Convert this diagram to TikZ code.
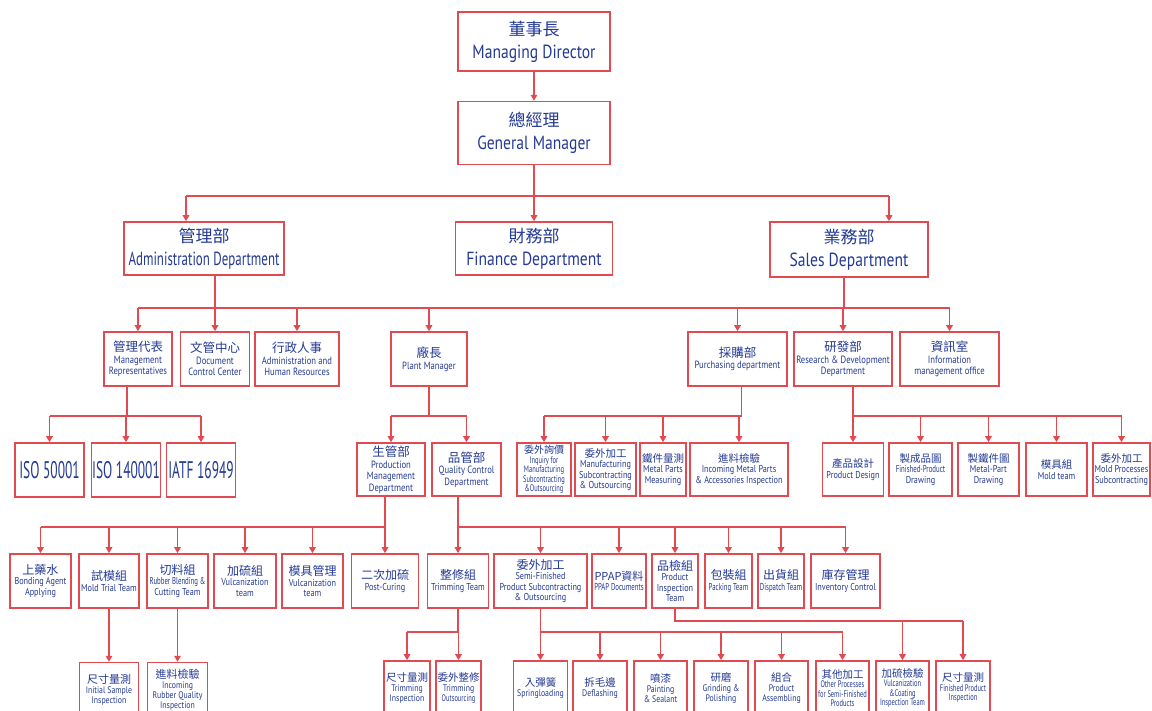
\documentclass[tikz,border=0pt]{standalone}
\usepackage{fontspec}
\setmainfont{PT Sans}[FakeStretch=0.82]
\newfontfamily\condfont{PT Sans}[FakeStretch=0.68]
\newfontfamily\isofont{PT Sans}[FakeStretch=0.56]
\newfontfamily\cjk{Noto Sans CJK TC}
\usetikzlibrary{positioning, arrows.meta}
\definecolor{linered}{RGB}{226,74,82}
\definecolor{labelblue}{RGB}{36,58,148}
\newcommand{\zh}[2]{{\cjk\fontsize{#1}{#1}\selectfont #2}}

\begin{document}
\begin{tikzpicture}[x=1pt, y=-1pt,
    unit/.style={draw=linered, line width=1.6pt, rectangle, fill=white, text=labelblue, align=center, inner sep=0.5pt},
    sz/.style 2 args={minimum width=#1pt, minimum height=#2pt},
    bigtext/.style={font=\fontsize{19}{23}\selectfont},
    midtext/.style={font=\fontsize{10.5}{11.5}\selectfont},
    isotext/.style={font=\isofont\fontsize{24}{26}\selectfont},
    smalltext/.style={font=\fontsize{10}{10.5}\selectfont},
    bottomtext/.style={font=\fontsize{9.5}{10}\selectfont},
    tinytext/.style={font=\condfont\fontsize{9.5}{9.5}\selectfont},
    conn/.style={draw=linered, line width=1.5pt},
    connarrow/.style={conn, -{Triangle[length=6pt, width=6.5pt]}}
]

\fill[white] (0,0) rectangle (1152,711);
\useasboundingbox (0,0) rectangle (1152,711);

% top of the chart
\node[unit, sz={152}{59}, bigtext] (md) at (534,41.5) {\zh{17}{董事長}\\Managing Director};
\node[unit, sz={152}{63}, bigtext, below=29pt of md] (gm) {\zh{17}{總經理}\\General Manager};

\node[unit, sz={160}{53}, bigtext] (admin) at (204,248.5) {\zh{17}{管理部}\\{\condfont Administration Department}};
\node[unit, sz={157}{53}, bigtext] (finance) at (534,248.5) {\zh{17}{財務部}\\Finance Department};
\node[unit, sz={158}{55}, bigtext] (sales) at (849,249.5) {\zh{17}{業務部}\\Sales Department};

% offices under the departments
\node[unit, sz={68}{54}, midtext] (mgmtrep) at (138,359) {\zh{12.5}{管理代表}\\Management\\Representatives};
\node[unit, sz={69}{54}, midtext] (doccenter) at (215,359) {\zh{12.5}{文管中心}\\Document\\Control Center};
\node[unit, sz={84}{54}, midtext] (adminhr) at (297,359) {\zh{12.5}{行政人事}\\Administration and\\Human Resources};
\node[unit, sz={76}{54}, midtext] (plant) at (429,359) {\zh{12.5}{廠長}\\Plant Manager};
\node[unit, sz={99}{54}, midtext] (purchase) at (737.5,359) {\zh{12.5}{採購部}\\Purchasing department};
\node[unit, sz={98}{54}, midtext] (rnd) at (843,359) {\zh{12.5}{研發部}\\Research \& Development\\Department};
\node[unit, sz={99}{54}, midtext] (infooffice) at (949.5,359) {\zh{12.5}{資訊室}\\Information\\management office};

\node[unit, sz={69}{54}, isotext] (iso1) at (49.5,470) {ISO 50001};
\node[unit, sz={69}{54}, isotext] (iso2) at (126,470) {ISO 140001};
\node[unit, sz={69}{54}, isotext] (iso3) at (201,470) {IATF 16949};

\node[unit, sz={68}{53}, midtext] (prodmgmt) at (391,469.5) {\zh{12.5}{生管部}\\Production\\Management\\Department};
\node[unit, sz={69}{53}, midtext] (qcdept) at (466.5,469.5) {\zh{12.5}{品管部}\\Quality Control\\Department};

\node[unit, sz={54}{53}, tinytext] (inquiry) at (544,469.5) {\zh{10}{委外詢價}\\Inquiry for\\Manufacturing\\Subcontracting\\\&Outsourcing};
\node[unit, sz={61}{53}, smalltext] (mfgsub) at (605.5,469.5) {\zh{10.5}{委外加工}\\Manufacturing\\Subcontracting\\\& Outsourcing};
\node[unit, sz={46}{53}, smalltext] (metalmeasure) at (663,469.5) {\zh{10.5}{鐵件量測}\\Metal Parts\\Measuring};
\node[unit, sz={98}{53}, smalltext] (incomingmetal) at (739,469.5) {\zh{10.5}{進料檢驗}\\Incoming Metal Parts\\\& Accessories Inspection};

\node[unit, sz={61}{53}, smalltext] (proddesign) at (853,469.5) {\zh{10.5}{產品設計}\\Product Design};
\node[unit, sz={63}{53}, smalltext] (finisheddraw) at (920.5,469.5) {\zh{10.5}{製成品圖}\\{\condfont Finished-Product}\\Drawing};
\node[unit, sz={61}{53}, smalltext] (metaldraw) at (988.5,469.5) {\zh{10.5}{製鐵件圖}\\Metal-Part\\Drawing};
\node[unit, sz={61}{53}, smalltext] (moldteam) at (1056.5,469.5) {\zh{10.5}{模具組}\\Mold team};
\node[unit, sz={57}{53}, smalltext] (moldsub) at (1121.5,469.5) {\zh{10.5}{委外加工}\\Mold Processes\\Subcontracting};

% teams
\node[unit, sz={61}{54}, smalltext] (bonding) at (40.5,581) {\zh{12}{上藥水}\\Bonding Agent\\Applying};
\node[unit, sz={60}{54}, smalltext] (moldtrial) at (109,581) {\zh{12}{試模組}\\Mold Trial Team};
\node[unit, sz={61}{54}, smalltext] (cutting) at (177.5,581) {\zh{12}{切料組}\\{\condfont Rubber Blending \&}\\Cutting Team};
\node[unit, sz={62}{54}, smalltext] (vulcan) at (245,581) {\zh{12}{加硫組}\\Vulcanization\\team};
\node[unit, sz={61}{54}, smalltext] (moldmgmt) at (312.5,581) {\zh{12}{模具管理}\\Vulcanization\\team};
\node[unit, sz={67}{54}, smalltext] (postcure) at (385,581) {\zh{12}{二次加硫}\\Post-Curing};
\node[unit, sz={61}{54}, smalltext] (trimming) at (458,581) {\zh{12}{整修組}\\Trimming Team};
\node[unit, sz={93}{54}, smalltext] (semisub) at (540.5,581) {\zh{12}{委外加工}\\Semi-Finished\\Product Subcontracting\\\& Outsourcing};
\node[unit, sz={54}{54}, smalltext] (ppap) at (619,581) {\zh{11}{PPAP資料}\\{\condfont PPAP Documents}};
\node[unit, sz={46}{54}, smalltext] (prodinspect) at (675,581) {\zh{12}{品檢組}\\Product\\Inspection\\Team};
\node[unit, sz={47}{54}, smalltext] (packing) at (728.5,581) {\zh{12}{包裝組}\\{\condfont Packing Team}};
\node[unit, sz={46}{54}, smalltext] (dispatch) at (781,581) {\zh{12}{出貨組}\\{\condfont Dispatch Team}};
\node[unit, sz={69}{54}, smalltext] (inventory) at (845.5,581) {\zh{12}{庫存管理}\\Inventory Control};

% bottom row
\node[unit, sz={59}{54}, bottomtext, below=53pt of moldtrial] (initsample) {\zh{11}{尺寸量測}\\Initial Sample\\Inspection};
\node[unit, sz={60}{54}, bottomtext, below=53pt of cutting] (incomingrubber) {\zh{11}{進料檢驗}\\Incoming\\Rubber Quality\\Inspection};
\node[unit, sz={46}{54}, bottomtext] (trimcheck) at (407,688) {\zh{10.5}{尺寸量測}\\Trimming\\Inspection};
\node[unit, sz={45}{54}, bottomtext] (trimout) at (458.5,688) {\zh{10.5}{委外整修}\\Trimming\\{\condfont Outsourcing}};
\node[unit, sz={54}{54}, bottomtext] (spring) at (540.5,688) {\zh{10.5}{入彈簧}\\Springloading};
\node[unit, sz={54}{54}, bottomtext] (deflash) at (600,688) {\zh{10.5}{拆毛邊}\\Deflashing};
\node[unit, sz={53}{54}, bottomtext] (painting) at (660.5,688) {\zh{10.5}{噴漆}\\Painting\\\& Sealant};
\node[unit, sz={54}{54}, bottomtext] (grinding) at (721,688) {\zh{10.5}{研磨}\\Grinding \&\\Polishing};
\node[unit, sz={53}{54}, bottomtext] (assembling) at (781.5,688) {\zh{10.5}{組合}\\Product\\Assembling};
\node[unit, sz={53}{54}, tinytext] (otherproc) at (842.5,688) {\zh{10.5}{其他加工}\\Other Processes\\for Semi-Finished\\Products};
\node[unit, sz={53}{54}, tinytext] (vulcheck) at (902.5,688) {\zh{10.5}{加硫檢驗}\\Vulcanization\\\&Coating\\Inspection Team};
\node[unit, sz={54}{54}, tinytext] (finalcheck) at (963,688) {\zh{10.5}{尺寸量測}\\Finished Product\\Inspection};

% connectors
\coordinate (bar1) at (0,196);
\coordinate (bar3) at (0,308);
\coordinate (bar4) at (0,416);
\coordinate (bar5) at (0,527);
\coordinate (bar6) at (0,632);
\coordinate (bar6q) at (0,621);
\coordinate (adminin) at ([xshift=-18pt]admin.north);
\coordinate (salesin) at ([xshift=40pt]sales.north);
\coordinate (adminout) at ([xshift=11pt]admin.south);
\coordinate (salesout) at ([xshift=-5pt]sales.south);
\coordinate (repout) at ([xshift=-11pt]mgmtrep.south);
\coordinate (purout) at ([xshift=4pt]purchase.south);
\coordinate (rndout) at ([xshift=10pt]rnd.south);
\coordinate (prodout) at ([xshift=-6pt]prodmgmt.south);
\coordinate (qcout) at ([xshift=-8.5pt]qcdept.south);

\draw[connarrow] (md) -- (gm);
\draw[connarrow] (gm) -- (finance);
\draw[conn] (adminin |- bar1) -- (salesin |- bar1);
\draw[connarrow] (adminin |- bar1) -- (adminin);
\draw[connarrow] (salesin |- bar1) -- (salesin);

\draw[conn] (adminout) -- (adminout |- bar3);
\draw[conn] (salesout) -- (salesout |- bar3);
\draw[conn] (bar3 -| mgmtrep.north) -- (bar3 -| infooffice.north);
\foreach \n in {mgmtrep, doccenter, adminhr, plant, purchase, rnd, infooffice}
    \draw[connarrow] (bar3 -| \n.north) -- (\n.north);

\draw[conn] (repout) -- (repout |- bar4);
\draw[conn] (bar4 -| iso1.north) -- (bar4 -| iso3.north);
\foreach \n in {iso1, iso2, iso3}
    \draw[connarrow] (bar4 -| \n.north) -- (\n.north);

\draw[conn] (plant.south) -- (plant.south |- bar4);
\draw[conn] (bar4 -| prodmgmt.north) -- (bar4 -| qcdept.north);
\foreach \n in {prodmgmt, qcdept}
    \draw[connarrow] (bar4 -| \n.north) -- (\n.north);

\draw[conn] (purout) -- (purout |- bar4);
\draw[conn] (bar4 -| inquiry.north) -- (bar4 -| purout);
\foreach \n in {inquiry, mfgsub, metalmeasure, incomingmetal}
    \draw[connarrow] (bar4 -| \n.north) -- (\n.north);

\draw[conn] (rndout) -- (rndout |- bar4);
\draw[conn] (bar4 -| proddesign.north) -- (bar4 -| moldsub.north);
\foreach \n in {proddesign, finisheddraw, metaldraw, moldteam, moldsub}
    \draw[connarrow] (bar4 -| \n.north) -- (\n.north);

\draw[conn] (prodout) -- (prodout |- bar5);
\draw[conn] (bar5 -| bonding.north) -- (bar5 -| prodout);
\foreach \n in {bonding, moldtrial, cutting, vulcan, moldmgmt, postcure}
    \draw[connarrow] (bar5 -| \n.north) -- (\n.north);

\draw[conn] (qcout) -- (qcout |- bar5);
\draw[conn] (bar5 -| qcout) -- (bar5 -| inventory.north);
\foreach \n in {trimming, semisub, ppap, prodinspect, packing, dispatch, inventory}
    \draw[connarrow] (bar5 -| \n.north) -- (\n.north);

\draw[connarrow] (moldtrial) -- (initsample);
\draw[connarrow] (cutting) -- (incomingrubber);

\draw[conn] (trimming.south) -- (trimming.south |- bar6);
\draw[conn] (bar6 -| trimcheck.north) -- (bar6 -| trimout.north);
\foreach \n in {trimcheck, trimout}
    \draw[connarrow] (bar6 -| \n.north) -- (\n.north);

\draw[conn] (semisub.south) -- (semisub.south |- bar6);
\draw[conn] (bar6 -| spring.north) -- (bar6 -| otherproc.north);
\foreach \n in {spring, deflash, painting, grinding, assembling, otherproc}
    \draw[connarrow] (bar6 -| \n.north) -- (\n.north);

\draw[conn] (prodinspect.south) -- (prodinspect.south |- bar6q) -- (bar6q -| finalcheck.north);
\foreach \n in {vulcheck, finalcheck}
    \draw[connarrow] (bar6q -| \n.north) -- (\n.north);

\end{tikzpicture}
\end{document}
